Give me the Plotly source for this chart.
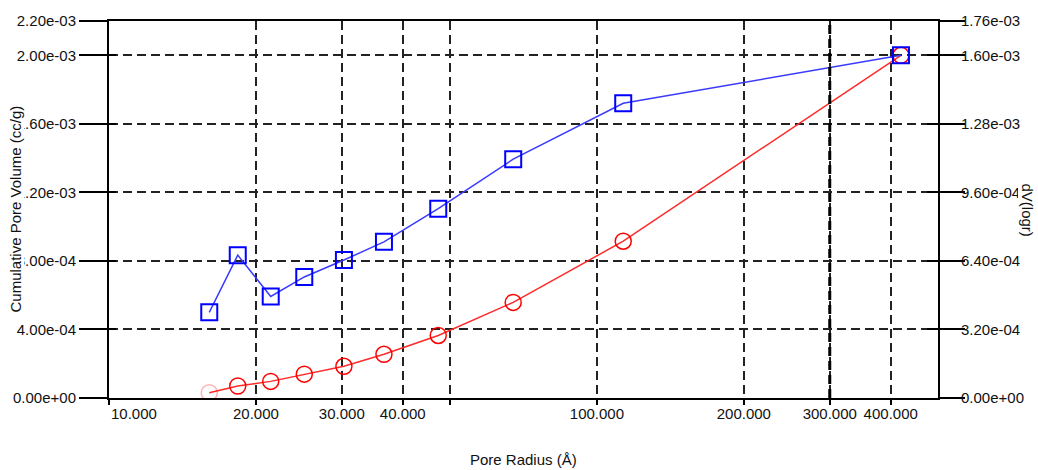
import plotly.graph_objects as go
import math

# ---- data ----
radius = [16.05, 18.36, 21.45, 25.13, 30.30, 36.60, 47.29, 67.36, 113.2, 419.8]
cum_volume = [3.1e-5, 7.0e-5, 9.7e-5, 1.39e-4, 1.85e-4, 2.55e-4, 3.65e-4, 5.58e-4, 9.15e-4, 2.0e-3]
dv_logr = [4.0e-4, 6.67e-4, 4.74e-4, 5.65e-4, 6.44e-4, 7.29e-4, 8.84e-4, 1.115e-3, 1.376e-3, 1.6e-3]
first_point_opacity = [0.3, 1, 1, 1, 1, 1, 1, 1, 1, 1]

x_tick_vals = [10, 20, 30, 40, 50, 100, 200, 300, 400]
x_tick_text = ["", "20.000", "30.000", "40.000", "", "100.000", "200.000", "300.000", "400.000"]
x_first_label = "10.000"
left_tick_vals = [0, 4e-4, 8e-4, 1.2e-3, 1.6e-3, 2.0e-3, 2.2e-3]
left_tick_text = ["0.00e+00", "4.00e-04", "8.00e-04", "1.20e-03", "1.60e-03", "2.00e-03", "2.20e-03"]
right_tick_vals = [0, 3.2e-4, 6.4e-4, 9.6e-4, 1.28e-3, 1.6e-3, 1.76e-3]
right_tick_text = ["0.00e+00", "3.20e-04", "6.40e-04", "9.60e-04", "1.28e-03", "1.60e-03", "1.76e-03"]

x_min, x_max = 10, 500
left_max = 2.2e-3
right_max = 1.76e-3

FONT = "Liberation Sans, Arial, sans-serif"
TXT = "#111111"
fs = 15

fig = go.Figure()

fig.add_trace(go.Scatter(
    x=radius, y=cum_volume, mode="lines+markers", yaxis="y",
    line=dict(color="#ff2a2a", width=1.5),
    marker=dict(symbol="circle-open", size=16, color="#ff0000",
                opacity=first_point_opacity, line=dict(width=1.5, color="#ff0000")),
    showlegend=False,
))
fig.add_trace(go.Scatter(
    x=radius, y=dv_logr, mode="lines+markers", yaxis="y2",
    line=dict(color="#3a3aff", width=1.5),
    marker=dict(symbol="square-open", size=16, color="#0000ff",
                line=dict(width=2, color="#0000ff")),
    showlegend=False,
))

grid = dict(gridcolor="#222222", gridwidth=1.5, griddash="9px,5px")

fig.update_layout(
    width=1038, height=470,
    margin=dict(l=109, r=100, t=17, b=72),
    paper_bgcolor="white", plot_bgcolor="white",
    font=dict(family=FONT, size=fs, color=TXT),
    xaxis=dict(
        type="log", range=[math.log10(x_min), math.log10(x_max)],
        tickmode="array", tickvals=x_tick_vals, ticktext=x_tick_text,
        showgrid=True, **grid,
        showline=True, linecolor="black", linewidth=2, mirror=True,
        ticks="outside", ticklen=5, tickwidth=2, tickcolor="black",
        ticklabelstandoff=-4,
        tickfont=dict(size=fs, color=TXT, family=FONT),
        zeroline=False,
    ),
    yaxis=dict(
        range=[0, left_max],
        tickmode="array", tickvals=left_tick_vals, ticktext=left_tick_text,
        showgrid=True, **grid,
        showline=True, linecolor="black", linewidth=2,
        ticks="outside", ticklen=28, tickwidth=2, tickcolor="black",
        tickfont=dict(size=fs, color=TXT, family=FONT),
        zeroline=False,
    ),
    yaxis2=dict(
        range=[0, right_max], overlaying="y", side="right", anchor="x",
        tickmode="array", tickvals=right_tick_vals, ticktext=right_tick_text,
        showgrid=False,
        showline=True, linecolor="black", linewidth=2,
        ticks="outside", ticklen=25, tickwidth=2, tickcolor="black",
        ticklabelstandoff=-7,
        tickfont=dict(size=fs, color=TXT, family=FONT),
        zeroline=False,
    ),
    yaxis3=dict(
        range=[0, left_max], overlaying="y", side="left", anchor="x",
        tickmode="array", tickvals=left_tick_vals, showticklabels=False,
        showgrid=False, showline=False, zeroline=False,
        ticks="inside", ticklen=7, tickwidth=2, tickcolor="black",
    ),
    yaxis4=dict(
        range=[0, right_max], overlaying="y", side="right", anchor="x",
        tickmode="array", tickvals=right_tick_vals, showticklabels=False,
        showgrid=False, showline=False, zeroline=False,
        ticks="inside", ticklen=11, tickwidth=2, tickcolor="black",
    ),
)

# invisible traces so the extra tick axes render
fig.add_trace(go.Scatter(x=[x_min], y=[0], yaxis="y3", mode="markers",
                         marker=dict(opacity=0), showlegend=False, hoverinfo="skip"))
fig.add_trace(go.Scatter(x=[x_min], y=[0], yaxis="y4", mode="markers",
                         marker=dict(opacity=0), showlegend=False, hoverinfo="skip"))

# bold gridline at 300
fig.add_shape(type="line", xref="x", yref="paper", x0=300, x1=300, y0=0, y1=1,
              line=dict(color="black", width=3, dash="9px,5px"), layer="above")

# first x tick label sits to the right of its tick in the reference
fig.add_annotation(text=x_first_label, xref="x", yref="paper",
                   x=math.log10(x_tick_vals[0]), y=(398 - 414) / 381,
                   xanchor="left", yanchor="middle", showarrow=False,
                   font=dict(size=fs, color=TXT, family=FONT))

# axis titles
fig.add_annotation(text="Cumulative Pore Volume (cc/g)", xref="paper", yref="paper",
                   x=(15 - 109) / 829, y=0.5, xanchor="center", yanchor="middle",
                   textangle=-90, showarrow=False, bgcolor="white", borderpad=0,
                   font=dict(size=fs, color=TXT, family=FONT))
fig.add_annotation(text="dV(logr)", xref="paper", yref="paper",
                   x=(1027 - 109) / 829, y=0.5, xanchor="center", yanchor="middle",
                   textangle=90, showarrow=False, bgcolor="white", borderpad=0,
                   font=dict(size=fs, color=TXT, family=FONT))
fig.add_annotation(text="Pore Radius (Å)", xref="paper", yref="paper",
                   x=0.5, y=(398 - 460) / 381, xanchor="center", yanchor="middle",
                   showarrow=False, font=dict(size=fs, color=TXT, family=FONT))

fig.write_html("out.html")
